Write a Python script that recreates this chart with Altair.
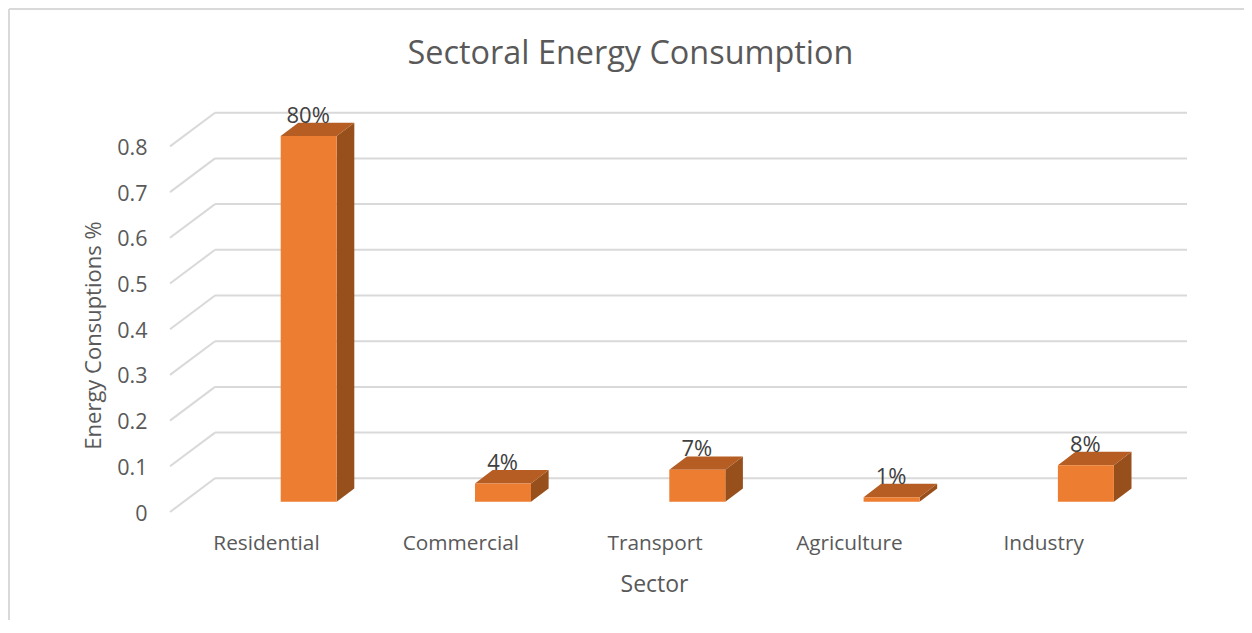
import altair as alt
import pandas as pd

# values
sectors = ["Residential", "Commercial", "Transport", "Agriculture", "Industry"]
shares = [0.80, 0.04, 0.07, 0.01, 0.08]
labels = ["80%", "4%", "7%", "1%", "8%"]
ticks = [0, 0.1, 0.2, 0.3, 0.4, 0.5, 0.6, 0.7, 0.8]

FONT = "Open Sans"
W, H = 1017, 400          # plot area, x scale is 1 unit per pixel
PX = 457.0                # pixels per unit of y
Y_MAX = H / PX
WALL_DX, WALL_DZ = 45, 33.7 / PX   # perspective of the back wall
STEP = 194.3              # category spacing
BAR_X0 = 110.7            # left edge of first bar
BAR_W = 56
DEPTH_DX, DEPTH_DZ = 17.6, 13.3 / PX   # depth of each bar
BASE = 10.3 / PX          # bar floor, above the front edge
LABEL_X0 = 96

x_scale = alt.Scale(domain=[0, W], range=[0, W], nice=False, zero=False)
y_scale = alt.Scale(domain=[0, Y_MAX], nice=False, zero=False)

front, top, side, text = [], [], [], []
for i, (name, v, lab) in enumerate(zip(sectors, shares, labels)):
    x0 = BAR_X0 + STEP * i
    x1 = x0 + BAR_W
    t = BASE + v
    front.append(dict(name=name, x=x0, x2=x1, y=t, y2=BASE))
    top += [
        dict(name=name, x=x0, y=t, y2=t),
        dict(name=name, x=x0 + DEPTH_DX, y=t + DEPTH_DZ, y2=t),
        dict(name=name, x=x1, y=t + DEPTH_DZ, y2=t),
        dict(name=name, x=x1 + DEPTH_DX, y=t + DEPTH_DZ, y2=t + DEPTH_DZ),
    ]
    side += [
        dict(name=name, x=x1, y=t, y2=BASE),
        dict(name=name, x=x1 + DEPTH_DX, y=t + DEPTH_DZ, y2=BASE + DEPTH_DZ),
    ]
    text.append(dict(name=lab, x=(x0 + x1) / 2 - 0.5, y=t + DEPTH_DZ))

grid_h = pd.DataFrame({"x": [WALL_DX] * len(ticks), "x2": [W] * len(ticks),
                       "y": [v + WALL_DZ for v in ticks]})
grid_d = pd.DataFrame({"x": [0] * len(ticks), "x2": [WALL_DX] * len(ticks),
                       "y": ticks, "y2": [v + WALL_DZ for v in ticks]})

X = alt.X("x:Q", scale=x_scale, title="Sector",
          axis=alt.Axis(
              values=[LABEL_X0 + STEP * i for i in range(len(sectors))],
              labelExpr="%s[round((datum.value-%g)/%g)]" % (str(sectors), LABEL_X0, STEP),
              domain=False, ticks=False, grid=False, labelFont=FONT, labelFontSize=20.8,
              labelColor="#595959", labelPadding=21, titleFont=FONT, titleFontSize=23,
              titleFontWeight="normal", titleColor="#595959", titleX=484, titleY=79,
              titleBaseline="alphabetic", labelFlush=False, labelOverlap=False))
Y = alt.Y("y:Q", scale=y_scale, title="Energy Consuptions %",
          axis=alt.Axis(
              values=ticks, format="", labelExpr="datum.value == 0 ? '0' : format(datum.value, '.1f')",
              domain=False, ticks=False, grid=False, labelFont=FONT, labelFontSize=21.5,
              labelColor="#595959", labelPadding=23, labelOffset=2, titleFont=FONT, titleFontSize=22,
              titleFontWeight="normal", titleColor="#595959", titleX=-65, titleY=223,
              labelFlush=False, labelOverlap=False))

grid_front = alt.Chart(grid_d).mark_rule(color="#D9D9D9", strokeWidth=2).encode(X, x2="x2:Q", y=Y, y2="y2:Q")
grid_back = alt.Chart(grid_h).mark_rule(color="#D9D9D9", strokeWidth=2).encode(
    x=alt.X("x:Q", scale=x_scale), x2="x2:Q", y=alt.Y("y:Q", scale=y_scale))

xs = alt.X("x:Q", scale=x_scale)
ys = alt.Y("y:Q", scale=y_scale, stack=False)
side_l = alt.Chart(pd.DataFrame(side)).mark_area(color="#974F1C", interpolate="linear").encode(
    x=xs, y=ys, y2="y2:Q", detail="name:N")
top_l = alt.Chart(pd.DataFrame(top)).mark_area(color="#B55D22", interpolate="linear").encode(
    x=xs, y=ys, y2="y2:Q", detail="name:N")
front_l = alt.Chart(pd.DataFrame(front)).mark_rect(color="#ED7D31").encode(x=xs, x2="x2:Q", y=ys, y2="y2:Q")
text_l = alt.Chart(pd.DataFrame(text)).mark_text(
    font=FONT, fontSize=22, color="#404040", baseline="alphabetic", align="center").encode(
    x=xs, y=alt.Y("y:Q", scale=y_scale), text="name:N")

border_l = alt.Chart(pd.DataFrame({"a": [0]})).mark_rule(color="#D9D9D9", strokeWidth=2).encode(
    x=alt.value(-161), y=alt.value(-103), y2=alt.value(521))
border_t = alt.Chart(pd.DataFrame({"a": [0]})).mark_rule(color="#D9D9D9", strokeWidth=2).encode(
    x=alt.value(-161), x2=alt.value(1074), y=alt.value(-103))

chart = alt.layer(
    border_l, border_t, grid_front, grid_back, side_l, top_l, front_l, text_l
).properties(
    width=W, height=H,
    title=alt.TitleParams("Sectoral Energy Consumption", font=FONT, fontSize=32.4, fontWeight="normal",
                          color="#595959", anchor="middle", dx=-48, offset=0, dy=88,
                          baseline="alphabetic"),
    autosize=alt.AutoSizeParams(type="none"),
    padding={"left": 162, "top": 104, "right": 57, "bottom": 108},
).configure_view(stroke=None)

chart.save("out.html", embed_options={"renderer": "svg", "actions": False})
